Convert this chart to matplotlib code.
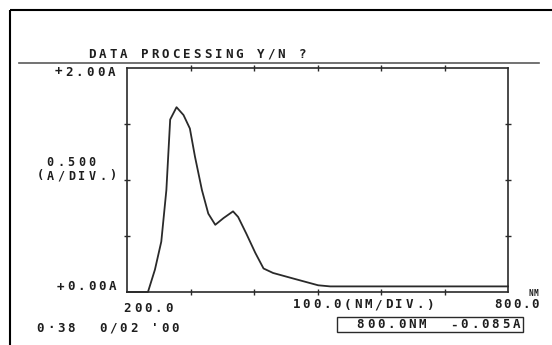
"""
Spectrophotometer printout: absorbance scan 200-800 nm, dot-matrix style.
Output: out.png (552x345 px)
"""
import matplotlib
matplotlib.use("Agg")
import matplotlib.pyplot as plt

W, H = 552, 345
INK = "#1e1e1e"
LINE = "#2a2a2a"
FAINT = "#5a5a5a"

# scan data
wavelength_nm = [200, 233, 244, 254, 262, 268, 278, 289, 299, 307, 318, 328,
                 339, 352, 367, 375, 388, 402, 415, 430, 462, 501, 520, 600,
                 700, 800]
absorbance = [0.00, 0.00, 0.20, 0.45, 0.91, 1.54, 1.65, 1.58, 1.46, 1.21,
              0.91, 0.70, 0.60, 0.66, 0.72, 0.67, 0.52, 0.35, 0.21, 0.17,
              0.12, 0.06, 0.05, 0.05, 0.05, 0.05]

x_range = (200, 800)
y_range = (0.0, 2.0)
x_ticks = [300, 400, 500, 600, 700]
y_ticks = [0.5, 1.0, 1.5]

# plot box in pixel coords (left, top, right, bottom)
BOX = (127, 68, 508, 292)


def dm_text(ax, x, y, s, pitch=10.4, size=9, **kw):
    """Print a string with fixed character pitch, like the plotter head does."""
    for i, ch in enumerate(s):
        if ch == " ":
            continue
        ax.text(x + pitch * (i + 0.5), y, ch, ha="center", va="center",
                fontsize=size, family="DejaVu Sans Mono", fontweight="bold",
                color=INK, **kw)


fig = plt.figure(figsize=(W / 100, H / 100), dpi=100)
fig.patch.set_facecolor("white")

# overlay in pixel coordinates for frame and printed text
bg = fig.add_axes([0, 0, 1, 1])
bg.set_xlim(0, W)
bg.set_ylim(H, 0)
bg.axis("off")

# paper frame (left and top edges)
bg.plot([10, 10], [10, H], color="black", lw=1.5, solid_capstyle="butt")
bg.plot([10, W], [10, 10], color="black", lw=1.5, solid_capstyle="butt")

# title and its rule
dm_text(bg, 87, 54, "DATA PROCESSING Y/N ?", pitch=10.5)
bg.plot([19, 539], [63, 63], color=FAINT, lw=1.2)

# y labels
dm_text(bg, 53, 72, "+2.00A", pitch=10.6)
dm_text(bg, 45, 162, "0.500", pitch=10.4, size=8.5)
dm_text(bg, 35, 176, "(A/DIV.)", pitch=10.4, size=8.5)
dm_text(bg, 55, 287, "+0.00A", pitch=10.5)

# x labels
dm_text(bg, 122, 308, "200.0")
dm_text(bg, 291, 305, "100.0(NM/DIV.)", pitch=10.3)
dm_text(bg, 493, 305, "800.0", pitch=9.4)
dm_text(bg, 528, 293, "NM", pitch=5.5, size=5.5)

# date line
dm_text(bg, 35, 328, "0\u00b738  0/02 '00")

# cursor readout box
bg.add_patch(plt.Rectangle((337, 317), 186, 15, fill=False,
                           edgecolor=LINE, lw=1.0))
dm_text(bg, 355, 325, "800.0NM  -0.085A", pitch=10.4)

# data axes
l, t, r, b = BOX
ax = fig.add_axes([l / W, (H - b) / H, (r - l) / W, (b - t) / H])
ax.set_facecolor("none")
ax.plot(wavelength_nm, absorbance, color=LINE, lw=1.3, clip_on=False)
ax.set_xlim(*x_range)
ax.set_ylim(*y_range)
ax.set_xticks(x_ticks)
ax.set_yticks(y_ticks)
ax.tick_params(direction="inout", length=4, width=1.0, color=LINE,
               labelleft=False, labelbottom=False,
               top=True, right=True)
for sp in ax.spines.values():
    sp.set_color(LINE)
    sp.set_linewidth(1.2)

fig.savefig("out.png", dpi=100, facecolor="white")
